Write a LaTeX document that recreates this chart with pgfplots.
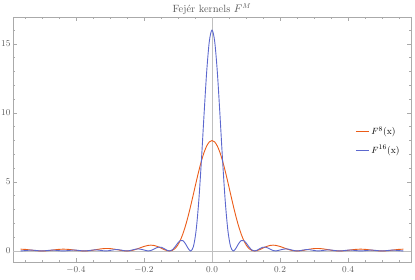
\documentclass[border=0pt]{standalone}
\usepackage{pgfplots}
\pgfplotsset{compat=1.18}
\definecolor{forange}{RGB}{235,92,24}
\definecolor{fblue}{RGB}{92,104,206}
\definecolor{framegray}{RGB}{170,170,170}
\definecolor{txtgray}{RGB}{90,90,90}
\begin{document}
\begin{tikzpicture}
\useasboundingbox (-13pt,-17pt) rectangle (402pt,262pt);
\begin{axis}[
  scale only axis,
  width=398pt, height=245pt,
  xmin=-0.585, xmax=0.585,
  ymin=-0.8, ymax=16.95,
  axis line style={framegray, line width=0.9pt},
  tick style={framegray, line width=0.6pt},
  tick pos=both,
  tick align=inside,
  major tick length=4pt,
  minor tick length=2.2pt,
  xtick={-0.4,-0.2,0,0.2,0.4},
  minor xtick={-0.55,-0.5,-0.45,-0.35,-0.3,-0.25,-0.15,-0.1,-0.05,0.05,0.1,0.15,0.25,0.3,0.35,0.45,0.5,0.55},
  ytick={0,5,10,15},
  minor ytick={1,2,3,4,6,7,8,9,11,12,13,14,16},
  xticklabel style={/pgf/number format/fixed,/pgf/number format/fixed zerofill,/pgf/number format/precision=1, yshift=-1pt},
  ticklabel style={font=\fontsize{9.3}{11}\selectfont, text=txtgray},
  yticklabel style={xshift=1pt},
  extra x ticks={0},
  extra x tick labels={},
  extra y ticks={0},
  extra y tick labels={},
  extra tick style={grid=major, major grid style={black!25, line width=0.6pt}, major tick length=0pt},
  title={Fej\'er kernels $F^M$},
  title style={font=\fontsize{10.5}{12}\selectfont, text=txtgray, at={(0.5,1)}, anchor=base, inner sep=0pt, yshift=-1.5pt},
  legend style={at={(0.852,0.494)}, anchor=west, draw=none, fill=none,
    font=\fontsize{9.5}{11}\selectfont, row sep=5pt},
  legend cell align=left,
  legend image code/.code={\draw[#1] (0pt,0pt) -- (13pt,0pt);},
]
\addplot[forange, line width=0.9pt, smooth, forget plot] table[x=x, y=f8] {
x f8
-0.5625 0.1300
-0.546875 0.1090
-0.53125 0.0631
-0.515625 0.0184
-0.5 0
-0.484375 0.0184
-0.46875 0.0631
-0.453125 0.1090
-0.4375 0.1300
-0.421875 0.1134
-0.40625 0.0683
-0.390625 0.0207
-0.375 0
-0.359375 0.0224
-0.34375 0.0804
-0.328125 0.1450
-0.3125 0.1808
-0.296875 0.1654
-0.28125 0.1046
-0.265625 0.0333
-0.25 0
-0.234375 0.0406
-0.21875 0.1553
-0.203125 0.3007
-0.1875 0.4050
-0.1796875 0.4201
-0.171875 0.4037
-0.1640625 0.3557
-0.15625 0.2813
-0.1484375 0.1909
-0.140625 0.1001
-0.1328125 0.0290
-0.125 0
-0.1171875 0.0367
-0.109375 0.1613
-0.1015625 0.3921
-0.09375 0.7417
-0.0859375 1.2148
-0.078125 1.807
-0.0703125 2.505
-0.0625 3.284
-0.0546875 4.114
-0.046875 4.956
-0.0390625 5.767
-0.03125 6.505
-0.0234375 7.129
-0.015625 7.603
-0.0078125 7.899
0 8
0.0078125 7.899
0.015625 7.603
0.0234375 7.129
0.03125 6.505
0.0390625 5.767
0.046875 4.956
0.0546875 4.114
0.0625 3.284
0.0703125 2.505
0.078125 1.807
0.0859375 1.2148
0.09375 0.7417
0.1015625 0.3921
0.109375 0.1613
0.1171875 0.0367
0.125 0
0.1328125 0.0290
0.140625 0.1001
0.1484375 0.1909
0.15625 0.2813
0.1640625 0.3557
0.171875 0.4037
0.1796875 0.4201
0.1875 0.4050
0.203125 0.3007
0.21875 0.1553
0.234375 0.0406
0.25 0
0.265625 0.0333
0.28125 0.1046
0.296875 0.1654
0.3125 0.1808
0.328125 0.1450
0.34375 0.0804
0.359375 0.0224
0.375 0
0.390625 0.0207
0.40625 0.0683
0.421875 0.1134
0.4375 0.1300
0.453125 0.1090
0.46875 0.0631
0.484375 0.0184
0.5 0
0.515625 0.0184
0.53125 0.0631
0.546875 0.1090
0.5625 0.1300
};
\addplot[fblue, line width=0.9pt, smooth, forget plot] table[x=x, y=f16] {
x f16
-0.5625 0
-0.546875 0.0319
-0.53125 0.0631
-0.515625 0.0313
-0.5 0
-0.484375 0.0313
-0.46875 0.0631
-0.453125 0.0319
-0.4375 0
-0.421875 0.0332
-0.40625 0.0683
-0.390625 0.0353
-0.375 0
-0.359375 0.0382
-0.34375 0.0804
-0.328125 0.0425
-0.3125 0
-0.296875 0.0484
-0.28125 0.1046
-0.265625 0.0569
-0.25 0
-0.234375 0.0693
-0.21875 0.1553
-0.203125 0.0881
-0.1875 0
-0.1796875 0.0320
-0.171875 0.1182
-0.1640625 0.2196
-0.15625 0.2813
-0.1484375 0.2639
-0.140625 0.1710
-0.1328125 0.0557
-0.125 0
-0.1171875 0.0707
-0.109375 0.2753
-0.1015625 0.5422
-0.09375 0.7417
-0.0859375 0.7499
-0.078125 0.5293
-0.0703125 0.1907
-0.0625 0
-0.0546875 0.3132
-0.046875 1.4515
-0.0390625 3.560
-0.03125 6.505
-0.0234375 9.858
-0.015625 12.979
-0.0078125 15.197
0 16
0.0078125 15.197
0.015625 12.979
0.0234375 9.858
0.03125 6.505
0.0390625 3.560
0.046875 1.4515
0.0546875 0.3132
0.0625 0
0.0703125 0.1907
0.078125 0.5293
0.0859375 0.7499
0.09375 0.7417
0.1015625 0.5422
0.109375 0.2753
0.1171875 0.0707
0.125 0
0.1328125 0.0557
0.140625 0.1710
0.1484375 0.2639
0.15625 0.2813
0.1640625 0.2196
0.171875 0.1182
0.1796875 0.0320
0.1875 0
0.203125 0.0881
0.21875 0.1553
0.234375 0.0693
0.25 0
0.265625 0.0569
0.28125 0.1046
0.296875 0.0484
0.3125 0
0.328125 0.0425
0.34375 0.0804
0.359375 0.0382
0.375 0
0.390625 0.0353
0.40625 0.0683
0.421875 0.0332
0.4375 0
0.453125 0.0319
0.46875 0.0631
0.484375 0.0313
0.5 0
0.515625 0.0313
0.53125 0.0631
0.546875 0.0319
0.5625 0
};
\addlegendimage{draw=forange, line width=1.1pt}
\addlegendentry{$F^{8}$(x)}
\addlegendimage{draw=fblue, line width=1.1pt}
\addlegendentry{$F^{16}$(x)}
\end{axis}
\end{tikzpicture}
\end{document}
